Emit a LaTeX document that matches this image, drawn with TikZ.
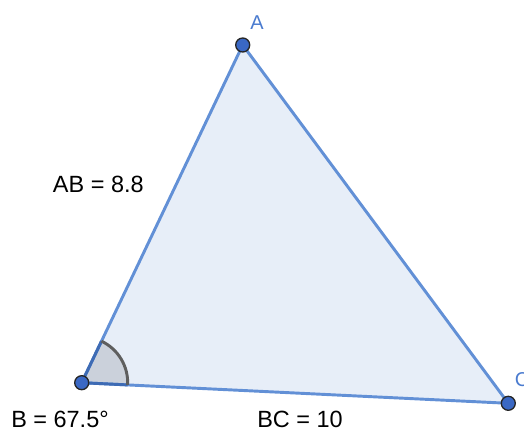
\documentclass[tikz,border=0pt]{standalone}
\usepackage{fontspec}
\setmainfont{Liberation Sans}
\definecolor{edgeblue}{HTML}{6290D6}
\definecolor{fillblue}{HTML}{E7EEF8}
\definecolor{ptblue}{HTML}{3A68C4}
\definecolor{lblblue}{HTML}{4A7BCF}
\definecolor{sectgray}{HTML}{CBD1DB}
\definecolor{arcgray}{HTML}{5E5E5E}
\definecolor{darkedge}{HTML}{3E6BB4}
\begin{document}
\begin{tikzpicture}[x=0.75pt,y=0.75pt,
  pt/.style={circle,fill=ptblue,draw=black!85,line width=1pt,inner sep=0pt,minimum size=10.5pt},
  side/.style={draw=edgeblue,line width=2.2pt,line join=round},
  lbl/.style={font=\fontsize{17.6pt}{20pt}\selectfont,inner sep=0pt,text=black},
  vlbl/.style={font=\fontsize{15pt}{18pt}\selectfont,inner sep=0pt,text=lblblue}]
\useasboundingbox (0,0) rectangle (524,432);
\coordinate (A) at (242.7,387);
\coordinate (B) at (81.7,49.3);
\coordinate (C) at (508.3,28.7);
\fill[fillblue] (A) -- (B) -- (C) -- cycle;
\fill[sectgray] (B) -- ++(-2.76:34.5pt) arc[start angle=-2.76,end angle=64.5,radius=34.5pt] -- cycle;
\draw[side] (A) -- (B) -- (C) -- cycle;
\draw[darkedge,line width=2.2pt] (B) -- ++(-2.76:34.5pt);
\draw[darkedge,line width=2.2pt] (B) -- ++(64.5:34.5pt);
\draw[arcgray,line width=2.2pt] (B) ++(-2.76:34.5pt) arc[start angle=-2.76,end angle=64.5,radius=34.5pt];
\node[pt] (pA) at (A) {};
\node[pt] (pB) at (B) {};
\node[pt] (pC) at (C) {};
\node[vlbl,anchor=base west] (lA) at (250,402.7) {A};
\node[vlbl,anchor=base west] (lC) at (514.5,45.5) {C};
\node[lbl,anchor=base west] (lAB) at (52.7,239.3) {AB = 8.8};
\node[lbl,anchor=base west] (lB) at (11,5) {B = 67.5°};
\node[lbl,anchor=base west] (lBC) at (257,5) {BC = 10};
\end{tikzpicture}
\end{document}
